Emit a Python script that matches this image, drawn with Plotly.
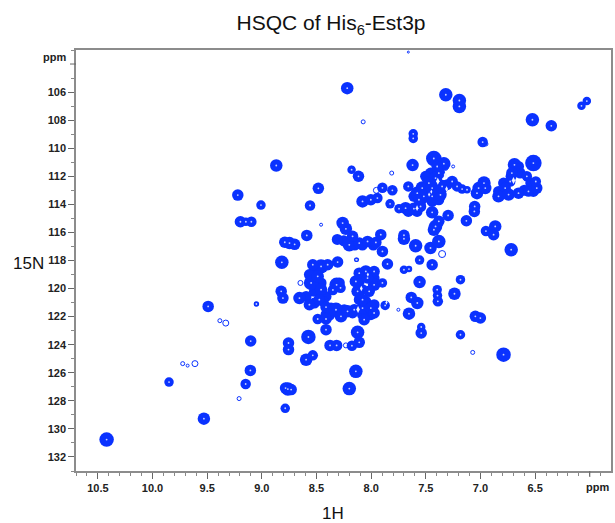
import plotly.graph_objects as go

# 1H ppm, 15N ppm, blob diameter (px) of resolved peaks
peak_h = [8.219,7.317,7.193,7.193,6.525,6.352,6.076,6.027,7.615,7.615,6.98,7.427,7.335,7.621,6.516,
 6.689,6.713,6.728,6.774,6.835,6.743,6.652,6.561,6.485,6.494,6.576,6.968,7.017,7.032,6.956,
 8.179,8.116,8.483,7.897,7.806,7.827,8.079,8.003,7.943,8.559,7.66,
 7.578,7.533,7.472,7.411,7.381,7.396,7.518,7.442,7.366,7.351,7.442,7.259,7.214,7.168,7.123,
 7.745,7.685,7.609,7.548,7.563,7.442,7.411,7.426,7.381,7.296,7.053,7.056,7.129,6.95,6.865,6.88,6.719,
 8.261,8.231,8.589,7.7,7.7,7.593,7.457,7.381,7.557,7.442,8.137,7.7,7.654,
 8.2,8.109,8.033,7.957,7.912,7.897,7.851,8.17,8.747,8.79,8.7,8.817,8.307,8.458,8.534,8.398,
 8.549,8.489,8.458,8.656,8.565,8.474,8.413,8.489,8.413,8.413,8.823,8.807,8.316,8.35,8.28,
 8.322,8.276,8.216,8.155,8.079,8.003,7.973,8.064,8.124,8.14,8.109,8.049,7.973,7.973,8.018,8.079,8.033,7.897,
 7.872,8.131,8.124,8.109,8.176,8.376,8.316,8.574,8.756,8.756,8.595,8.534,8.14,8.2,8.762,
 7.557,7.183,7.633,7.578,7.654,7.396,7.39,7.393,7.238,7.047,7.001,7.542,7.542,7.183,6.789,
 8.868,9.22,9.008,9.196,9.146,9.096,9.491,9.05,9.102,9.849,9.105,9.148,8.783,8.732,8.786,9.53,10.42]
peak_n = [105.72,106.19,106.6,107.02,107.97,108.4,106.98,106.64,108.97,109.3,109.56,110.73,111.1,111.2,111.06,
 111.18,111.77,112.37,112.84,113.43,113.3,113.2,113.08,112.84,112.37,112.0,112.48,112.84,113.2,112.84,
 111.53,112.0,112.86,112.82,113.0,113.96,113.79,113.67,113.55,114.08,112.72,
 113.2,112.84,112.48,112.13,111.77,111.3,113.43,113.43,113.32,112.72,112.84,112.37,112.72,112.91,112.96,
 114.31,114.27,114.31,114.15,113.67,114.57,115.57,115.81,115.21,114.79,114.15,114.5,115.17,115.9,115.57,116.16,117.23,
 115.33,115.74,116.21,116.2,116.45,116.95,117.11,116.64,117.97,118.3,117.94,118.66,118.61,
 116.88,116.76,116.64,116.71,116.16,117.35,118.25,116.28,116.76,116.7,116.85,118.13,118.11,118.42,118.3,118.3,
 119.6,119.13,120.08,120.68,121.15,120.79,121.32,122.17,122.17,122.93,120.2,120.68,119.73,120.1,119.95,
 121.51,121.98,121.62,121.51,121.39,121.39,121.74,122.22,120.2,119.49,118.9,118.78,118.78,119.73,120.2,120.79,119.25,119.6,
 121.2,117.95,123.12,123.83,124.07,124.05,124.05,123.45,123.88,124.35,125.07,124.76,125.9,127.13,127.16,
 119.54,119.37,120.63,121.03,121.79,120.08,120.91,120.5,120.37,121.98,122.1,123.17,122.74,123.29,124.71,
 111.23,113.34,114.05,115.24,115.24,115.24,121.27,121.1,123.74,126.66,125.83,126.8,127.09,127.2,128.53,129.27,130.76]
peak_d = [11,12,12,12,12,10,7,7,8,8,9,14,12,11,15,
 12,10,9,10,11,11,10,9,10,9,9,12,11,11,11,
 7,10,10,9,9,8,11,10,9,9,9,
 12,12,12,12,11,10,12,12,11,12,12,10,9,8,6,
 8,11,11,10,10,11,12,11,10,10,10,10,10,9,11,10,12,
 11,11,10,10,11,12,11,12,8,10,3,7,5,
 12,10,10,10,10,10,10,10,11,10,10,12,10,13,10,10,
 13,11,11,11,10,10,10,9,10,10,10,10,13,9,9,
 13,11,11,10,11,11,10,10,11,11,10,11,10,11,10,10,10,8,
 8,3,12,10,9,10,10,13,10,10,11,9,12,12,12,
 11,8,10,11,11,8,9,8,11,10,10,10,7,8,13,
 11,10,8,10,7,9,10,4,10,8,10,9,10,10,8,11,13]

# unresolved shoulders that merge neighbouring peaks in the crowded regions
merge_h = [7.457,7.487,7.502,7.609,7.548,7.442,7.381,7.305,7.39,7.48,
 8.458,8.519,8.595,8.519,8.413,8.367,8.413,8.246,8.17,8.079,8.003,8.109,8.049,7.973,8.109,7.973,8.079,8.519,8.565,8.291,8.44,8.38,
 6.835,6.789,6.516,6.54,6.652,6.637,6.72,6.6,
 8.25,8.15,8.08,7.98,8.31,7.66,7.58]
merge_n = [111.77,112.84,112.0,113.43,113.79,113.79,113.67,112.6,112.5,113.2,
 119.6,120.2,120.56,121.03,120.56,121.39,121.86,121.51,121.74,121.86,121.86,120.79,120.91,121.15,119.49,119.25,120.08,118.78,119.0,119.6,120.9,121.9,
 113.08,112.48,113.08,112.48,111.3,111.77,112.0,113.0,
 116.6,116.9,116.9,116.9,116.5,114.5,114.5]

# fainter peaks drawn as open contours
weak_h = [8.073,6.95,7.952,8.179,7.812,7.351,8.647,8.458,8.231,7.751,7.071,9.33,9.384,9.724,9.679,9.612,9.208,7.66,7.32,7.5,7.25]
weak_n = [108.12,109.7,113.0,111.5,111.77,117.54,119.6,115.45,124.05,121.51,124.55,122.46,122.29,125.35,125.49,125.35,127.84,103.15,111.4,112.2,111.3]
weak_d = [4,4,6,6,4,7,5,3,5,3,4,6,4,4,3,6,4,2,5,3,3]

# pale openings inside the largest blobs
hole_h = [6.698,6.616,7.39,7.32,7.31,7.45,7.58,7.47,8.12,8.09,7.86,8.03]
hole_n = [112.3,112.41,112.36,111.9,112.9,113.1,114.27,113.3,121.5,120.0,121.0,119.0]
hole_w = [5,5,5,5,4,3,4,3,5,4,3,3]

x_major = [10.5,10.0,9.5,9.0,8.5,8.0,7.5,7.0,6.5]
x_labels = ["10.5","10.0","9.5","9.0","8.5","8.0","7.5","7.0","6.5"]
x_unlabelled = [6.0]
y_major = list(range(106,134,2))
y_labels = [str(v) for v in y_major]
y_unlabelled = [104]

BLUE = "#0a32ff"
GREY = "#8c8c8c"
FONT = "Liberation Sans"

fig = go.Figure()
fig.add_trace(go.Scatter(x=weak_h, y=weak_n, mode="markers",
    marker=dict(size=weak_d, color="rgba(255,255,255,0)", opacity=1, line=dict(color=BLUE, width=1)), showlegend=False))
fig.add_trace(go.Scatter(x=merge_h, y=merge_n, mode="markers",
    marker=dict(size=11, color=BLUE, opacity=1, line=dict(width=0)), showlegend=False))
fig.add_trace(go.Scatter(x=peak_h, y=peak_n, mode="markers",
    marker=dict(size=[d + 1.5 for d in peak_d], color=BLUE, opacity=1, line=dict(width=0)), showlegend=False))
fig.add_trace(go.Scatter(x=peak_h, y=peak_n, mode="markers",
    marker=dict(size=1.8, color="#c9d1ff", opacity=1, line=dict(width=0)), showlegend=False))
fig.add_trace(go.Scatter(x=hole_h, y=hole_n, mode="markers",
    marker=dict(size=hole_w, color="#f2f4ff", opacity=1, symbol="diamond-tall", line=dict(width=0)), showlegend=False))

shapes = [dict(type="line", xref="x", yref="paper", x0=v, x1=v, ysizemode="pixel", yanchor=0, y0=0, y1=-6,
               line=dict(color="#666", width=1)) for v in x_unlabelled]
shapes += [dict(type="line", yref="y", xref="paper", y0=v, y1=v, xsizemode="pixel", xanchor=0, x0=0, x1=-6,
                line=dict(color="#666", width=1)) for v in y_unlabelled]

fig.update_layout(
    width=615, height=523, paper_bgcolor="white", plot_bgcolor="white",
    margin=dict(l=75.5, r=2, t=50, b=52), font=dict(family=FONT, color="#111"),
    shapes=shapes,
    title=dict(text="HSQC of His<sub>6</sub>-Est3p", x=331/615, xanchor="center", y=1-23/523, yanchor="middle",
               font=dict(size=21, family=FONT, color="#111")),
    xaxis=dict(range=[10.70,5.806], tickmode="array", tickvals=x_major, ticktext=x_labels,
        ticks="outside", ticklen=6, tickwidth=1, tickcolor="#666", showgrid=False, zeroline=False,
        showline=True, linecolor=GREY, linewidth=1.5, mirror=True,
        minor=dict(tickmode="linear", tick0=6.0, dtick=0.1, ticks="outside", ticklen=3, tickcolor="#888", showgrid=False),
        tickfont=dict(size=11, family=FONT, weight="bold", color="#222")),
    yaxis=dict(range=[133.0,103.0], tickmode="array", tickvals=y_major, ticktext=y_labels,
        ticks="outside", ticklen=6, tickwidth=1, tickcolor="#666", showgrid=False, zeroline=False,
        showline=True, linecolor=GREY, linewidth=1.5, mirror=True,
        minor=dict(tickmode="linear", tick0=105, dtick=2, ticks="outside", ticklen=3, tickcolor="#888", showgrid=False),
        tickfont=dict(size=11, family=FONT, weight="bold", color="#222")),
    annotations=[
        dict(text="1H", xref="paper", yref="paper", x=(334-75.5)/537.5, y=-(513-471)/421, xanchor="center", yanchor="middle",
             showarrow=False, font=dict(size=17, family=FONT, color="#111")),
        dict(text="15N", xref="paper", yref="paper", x=-(75.5-10)/537.5, y=1-(263-50)/421, xanchor="left", yanchor="middle",
             showarrow=False, font=dict(size=17, family=FONT, color="#111")),
        dict(text="<b>ppm</b>", xref="paper", yref="paper", x=-(75.5-67)/537.5, y=1-(57-50)/421, xanchor="right", yanchor="middle",
             showarrow=False, font=dict(size=11, family=FONT, color="#222")),
        dict(text="<b>ppm</b>", xref="paper", yref="paper", x=1, y=-(487-471)/421, xanchor="right", yanchor="middle",
             showarrow=False, font=dict(size=11, family=FONT, color="#222")),
    ],
)
fig.write_html("out.html", config=dict(displayModeBar=False),
               post_script="document.body.style.margin='0';document.body.style.overflow='hidden';")
